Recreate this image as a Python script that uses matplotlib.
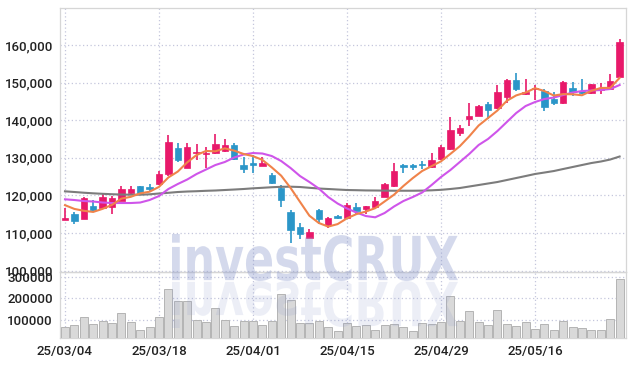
import matplotlib
matplotlib.use('Agg')
import matplotlib.pyplot as plt
import numpy as np
import pandas as pd
from matplotlib.textpath import TextPath
from matplotlib.font_manager import FontProperties
from matplotlib.patches import PathPatch
from matplotlib.transforms import Affine2D, IdentityTransform

plt.rcParams['font.family'] = ['Roboto', 'Liberation Sans', 'DejaVu Sans']

dates = ['25/03/04', '25/03/05', '25/03/06', '25/03/07', '25/03/10', '25/03/11', '25/03/12', '25/03/13',
         '25/03/14', '25/03/17', '25/03/18', '25/03/19', '25/03/20', '25/03/21', '25/03/24', '25/03/25',
         '25/03/26', '25/03/27', '25/03/28', '25/03/31', '25/04/01', '25/04/02', '25/04/03', '25/04/04',
         '25/04/07', '25/04/08', '25/04/09', '25/04/10', '25/04/11', '25/04/14', '25/04/15', '25/04/16',
         '25/04/17', '25/04/18', '25/04/21', '25/04/22', '25/04/23', '25/04/24', '25/04/25', '25/04/28',
         '25/04/29', '25/04/30', '25/05/02', '25/05/07', '25/05/08', '25/05/09', '25/05/12', '25/05/13',
         '25/05/14', '25/05/15', '25/05/16', '25/05/19', '25/05/20', '25/05/21', '25/05/22', '25/05/23',
         '25/05/26', '25/05/27', '25/05/28', '25/05/29']

opens = [113500, 115000, 113800, 117200, 116700, 117000, 118600, 120700, 122400, 122100,
         123100, 125600, 132600, 127400, 131300, 130900, 131200, 131900, 133400, 128100,
         128400, 127900, 125400, 122000, 115600, 111500, 108700, 116100, 112200, 114300,
         113900, 116800, 116300, 116800, 119600, 122500, 128100, 128100, 128300, 127600,
         129600, 132300, 136500, 140400, 141200, 144300, 143200, 146100, 150700, 146900,
         148400, 147800, 145600, 144500, 148500, 147800, 147300, 148000, 148400, 151600]
highs = [116600, 115500, 119700, 118700, 120400, 119800, 122500, 122400, 122500, 122900,
         126500, 136100, 133900, 133900, 133600, 133000, 136400, 135100, 134000, 130300,
         130700, 130300, 126000, 122700, 116100, 112600, 111000, 116300, 114200, 114700,
         117900, 117900, 117300, 119500, 123400, 128500, 128300, 128300, 129100, 131200,
         133400, 140900, 138800, 144500, 144000, 144800, 149400, 150900, 152500, 150900,
         149400, 148200, 147600, 150300, 150200, 150900, 149700, 149800, 152200, 161500]
lows = [113400, 112300, 113600, 115900, 116600, 115000, 118400, 120500, 120500, 120800,
        122800, 125200, 129000, 127200, 129400, 127200, 130900, 131500, 129300, 125900,
        126000, 127700, 123000, 116800, 107300, 108300, 108600, 112400, 111300, 113700,
        113800, 114700, 115000, 116700, 119500, 122300, 126000, 126700, 126900, 127400,
        129400, 132000, 135800, 138500, 141000, 140400, 143000, 144700, 147800, 146700,
        145300, 142500, 144000, 144300, 146500, 147000, 147100, 146900, 148200, 151300]
closes = [114000, 113300, 119200, 116100, 119500, 119300, 121600, 121600, 120700, 121700,
          125700, 134200, 129400, 132900, 131500, 131100, 133700, 133400, 129800, 127100,
          128200, 128700, 123400, 118800, 110800, 109700, 110300, 113700, 114000, 114100,
          117400, 115900, 117100, 118500, 123000, 126400, 127500, 127600, 128000, 129400,
          132800, 137400, 137800, 141100, 143800, 142800, 147400, 150700, 148300, 147600,
          148600, 143600, 144700, 150200, 147400, 147300, 149500, 148500, 150300, 160700]
volumes = [68800, 75300, 112600, 80000, 94000, 84700, 131200, 89300, 52100, 66000,
           112600, 245600, 187000, 187000, 98600, 89300, 154400, 98600, 70700, 94000,
           94000, 75300, 94000, 219500, 191600, 84700, 84700, 94000, 66000, 47400,
           84700, 70700, 75300, 52100, 75300, 80000, 66000, 47400, 84700, 80000,
           89300, 210200, 94000, 140500, 89300, 75300, 145100, 80000, 70700, 89300,
           56700, 80000, 52100, 94000, 66000, 61400, 52100, 52100, 103300, 292100]

# moving averages (5 / 20 / long)
ma5_head = [117400, 116400, 115900, 115600]
ma20 = [118960, 118770, 118500, 118370, 118100, 117970, 117970, 117970, 118100, 118770,
        119830, 121700, 123030, 124220, 125690, 126880, 128080, 128880, 130080, 130870,
        131270, 131140, 130470, 129140, 127280, 125150, 123560, 121830, 119570, 117840,
        116510, 115450, 114510, 114170, 115310, 117040, 118500, 119570, 120770, 122760,
        124890, 126750, 128880, 131010, 133400, 135000, 137120, 139520, 141910, 143770,
        144840, 145640, 146030, 146700, 147360, 147760, 147900, 148030, 148300, 149360]
ma_long = [121080, 120900, 120710, 120550, 120420, 120310, 120230, 120180, 120180, 120290,
           120500, 120690, 120900, 121030, 121110, 121220, 121300, 121430, 121560, 121700,
           121880, 122020, 122170, 122280, 122310, 122230, 122020, 121830, 121700, 121560,
           121430, 121380, 121320, 121300, 121270, 121240, 121240, 121240, 121270, 121350,
           121480, 121700, 121960, 122360, 122760, 123160, 123560, 124090, 124620, 125150,
           125690, 126080, 126480, 127020, 127550, 128080, 128610, 129010, 129540, 130340]

price_ticks = [100000, 110000, 120000, 130000, 140000, 150000, 160000]
vol_ticks = [100000, 200000, 300000]

UP = '#e8196a'
DOWN = '#2b96c8'

df = pd.DataFrame({'open': opens, 'high': highs, 'low': lows, 'close': closes, 'vol': volumes})
x = np.arange(len(df))
ma5 = df['close'].rolling(5).mean().to_numpy()
ma5[:4] = ma5_head

fig = plt.figure(figsize=(6.34, 3.66), dpi=100)
fig.patch.set_facecolor('white')
ax = fig.add_axes([60 / 634, (366 - 272) / 366, 566 / 634, 264 / 366])
axv = fig.add_axes([60 / 634, (366 - 338) / 366, 566 / 634, 66 / 366], sharex=ax)

grid_kw = dict(color='#c4c6dc', linestyle=(0, (1, 2)), linewidth=0.9)
for a in (ax, axv):
    a.set_facecolor('none')
    a.set_axisbelow(True)
    a.grid(True, **grid_kw)
    for s in a.spines.values():
        s.set_color('#d6d6d6')
        s.set_linewidth(0.9)
    a.tick_params(length=0, labelsize=9.5, colors='#222222', pad=5)
    for lbl in a.get_yticklabels() + a.get_xticklabels():
        lbl.set_fontweight('medium')

# candles
up = df['close'] >= df['open']
colors = np.where(up, UP, DOWN)
body_low = np.minimum(df['open'], df['close'])
body_h = np.maximum((df['close'] - df['open']).abs(), 300)
ax.vlines(x, df['low'], df['high'], colors=colors, linewidth=1.2, zorder=3)
ax.bar(x, body_h, bottom=body_low, width=0.68, color=colors, edgecolor=colors, linewidth=0.5, zorder=4)

ax.plot(x, ma_long, color='#7c7c7c', lw=1.5, zorder=5)
ax.plot(x, ma20, color='#cf55ea', lw=1.5, zorder=5)
ax.plot(x, ma5, color='#f0834a', lw=1.5, zorder=6)

ax.set_ylim(99620, 169850)
ax.set_yticks(price_ticks)
ax.set_yticklabels([f'{v:,}' for v in price_ticks], fontweight='medium')
ax.set_xlim(-0.53, 59.68)
plt.setp(ax.get_xticklabels(), visible=False)

# volume
axv.bar(x, df['vol'], width=0.86, color='#d9d9d9', edgecolor='#b4b4b4', linewidth=0.7, zorder=3)
axv.set_ylim(16300, 323000)
axv.set_yticks(vol_ticks)
axv.set_yticklabels([str(v) for v in vol_ticks], fontweight='medium')
tick_idx = list(range(0, len(dates), 10))
axv.set_xticks(tick_idx)
axv.set_xticklabels([dates[i] for i in tick_idx], fontweight='medium')
ax.set_xticks(tick_idx)

# watermark with reflection
tp = TextPath((0, 0), 'investCRUX', size=1, prop=FontProperties(family='DejaVu Sans', weight='bold'))
bb = tp.get_extents()
sx = (458 - 172) / bb.width
sy = (281 - 234) / bb.height
main_t = Affine2D().translate(-bb.x0, -bb.y0).scale(sx, sy).translate(172, 366 - 281)
refl_t = Affine2D().translate(-bb.x0, -bb.y0).scale(sx, -sy).translate(172, 366 - 281)
fig.add_artist(PathPatch(main_t.transform_path(tp), transform=IdentityTransform(),
                         facecolor='#8a98cc', edgecolor='none', alpha=0.36, zorder=10))
fig.add_artist(PathPatch(refl_t.transform_path(tp), transform=IdentityTransform(),
                         facecolor='#8a98cc', edgecolor='none', alpha=0.16, zorder=10))

fig.savefig('out.png', dpi=100, facecolor='white')
